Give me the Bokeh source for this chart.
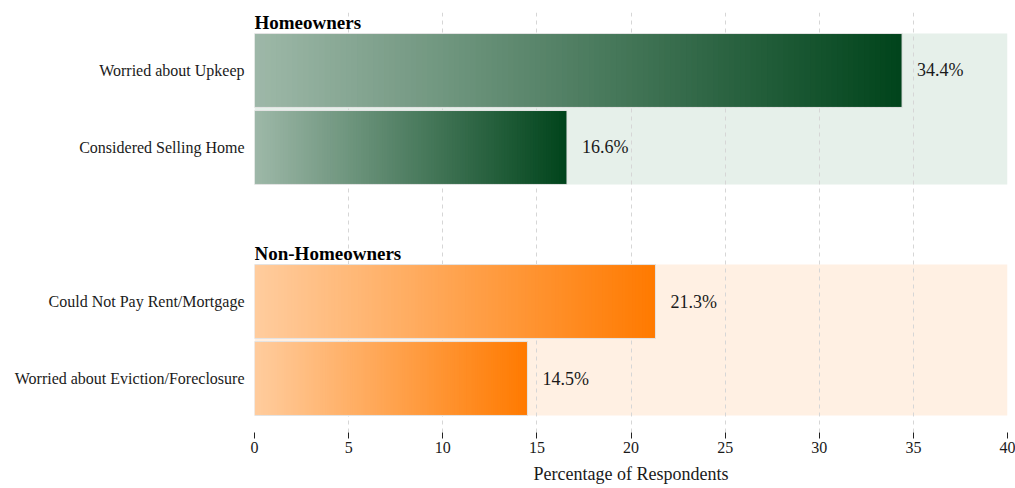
from bokeh.plotting import figure
from bokeh.models import Range1d, FixedTicker, ColumnDataSource
from bokeh.core.properties import value
from bokeh.embed import file_html
from bokeh.resources import INLINE

# ---- data ----
groups = ["Homeowners", "Non-Homeowners"]
categories = ["Worried about Upkeep", "Considered Selling Home",
              "Could Not Pay Rent/Mortgage", "Worried about Eviction/Foreclosure"]
cat_group = [0, 0, 1, 1]
values = [34.4, 16.6, 21.3, 14.5]
x_max = 40
x_ticks = [0, 5, 10, 15, 20, 25, 30, 35, 40]

dark_colors = ["#00441b", "#ff7a00"]
bg_colors = ["#e6f0ea", "#fff0e3"]
FONT = "Liberation Serif"
TEXT = "#1a1a1a"

def hex2rgb(h):
    h = h.lstrip("#")
    return tuple(int(h[i:i + 2], 16) for i in (0, 2, 4))

def mix(c, t):
    r, g, b = hex2rgb(c)
    return "#%02x%02x%02x" % tuple(int(round(255 + (v - 255) * t)) for v in (r, g, b))

# positions: one slot per bar, extra gap slot between groups
pos = []
slot = 0
prev = cat_group[0]
for g in cat_group:
    if g != prev:
        slot += 1
        prev = g
    pos.append(slot)
    slot += 1

bar_h = 0.96
p = figure(width=1015, height=488, output_backend="svg", toolbar_location=None,
           x_range=Range1d(0, x_max), y_range=Range1d(4.701, -0.753),
           min_border_left=254, min_border_right=8, min_border_top=12,
           min_border_bottom=56)
p.outline_line_color = None
p.background_fill_color = "white"
p.border_fill_color = "white"

# background tracks per group
for gi, gname in enumerate(groups):
    ys = [pos[i] for i in range(len(categories)) if cat_group[i] == gi]
    top = min(ys) - bar_h / 2
    bottom = max(ys) + bar_h / 2
    p.quad(left=[0], right=[x_max], top=[top], bottom=[bottom],
           fill_color=bg_colors[gi], line_color=None, level="image")
    p.text(x=[0], y=[top], text=[gname], text_font=value(FONT),
           text_font_style="bold", text_font_size="19px",
           text_baseline="bottom", text_align="left", y_offset=-1,
           text_color="black")

# gradient bars
N = 120
for i, (v, y) in enumerate(zip(values, pos)):
    c = dark_colors[cat_group[i]]
    lefts, rights, cols = [], [], []
    for k in range(N):
        l = v * k / N
        r = min(v, v * (k + 1) / N + v * 0.004)
        t = 0.38 + 0.62 * (k + 0.5) / N
        lefts.append(l)
        rights.append(r)
        cols.append(mix(c, t))
    src = ColumnDataSource(dict(left=lefts, right=rights, color=cols,
                                top=[y - bar_h / 2] * N, bottom=[y + bar_h / 2] * N))
    p.quad(left="left", right="right", top="top", bottom="bottom",
           fill_color="color", line_color=None, source=src)
    p.quad(left=[0], right=[v], top=[y - bar_h / 2], bottom=[y + bar_h / 2],
           fill_color=None, line_color="#e4e4e4", line_width=1)
    p.text(x=[v], y=[y], text=["%.1f%%" % v], text_font=value(FONT),
           text_font_size="18px", text_baseline="middle", text_align="left",
           x_offset=15, text_color=TEXT)

# axes
p.xaxis.ticker = FixedTicker(ticks=x_ticks)
p.xaxis.axis_label = "Percentage of Respondents"
p.xaxis.axis_label_text_font = FONT
p.xaxis.axis_label_text_font_style = "normal"
p.xaxis.axis_label_text_font_size = "18px"
p.xaxis.axis_label_text_color = TEXT
p.xaxis.axis_label_standoff = 8
p.xaxis.major_label_text_font = FONT
p.xaxis.major_label_text_font_size = "16px"
p.xaxis.major_label_text_color = TEXT
p.xaxis.major_label_standoff = 3
p.xaxis.axis_line_color = None
p.xaxis.major_tick_line_color = "#222222"
p.xaxis.major_tick_out = 6
p.xaxis.major_tick_in = 0
p.xaxis.minor_tick_line_color = None

p.yaxis.ticker = FixedTicker(ticks=pos)
p.yaxis.major_label_overrides = {y: c for y, c in zip(pos, categories)}
p.yaxis.major_label_text_font = FONT
p.yaxis.major_label_text_font_size = "16px"
p.yaxis.major_label_text_color = TEXT
p.yaxis.major_label_standoff = 10
p.yaxis.major_tick_out = 0
p.yaxis.major_tick_in = 0
p.yaxis.axis_line_color = None
p.yaxis.major_tick_line_color = None
p.yaxis.minor_tick_line_color = None

p.xgrid.grid_line_color = "#d6d6d6"
p.xgrid.grid_line_dash = "4 4"
p.xgrid.grid_line_width = 1
p.ygrid.grid_line_color = None

open("out.html", "w").write(file_html(p, INLINE))
